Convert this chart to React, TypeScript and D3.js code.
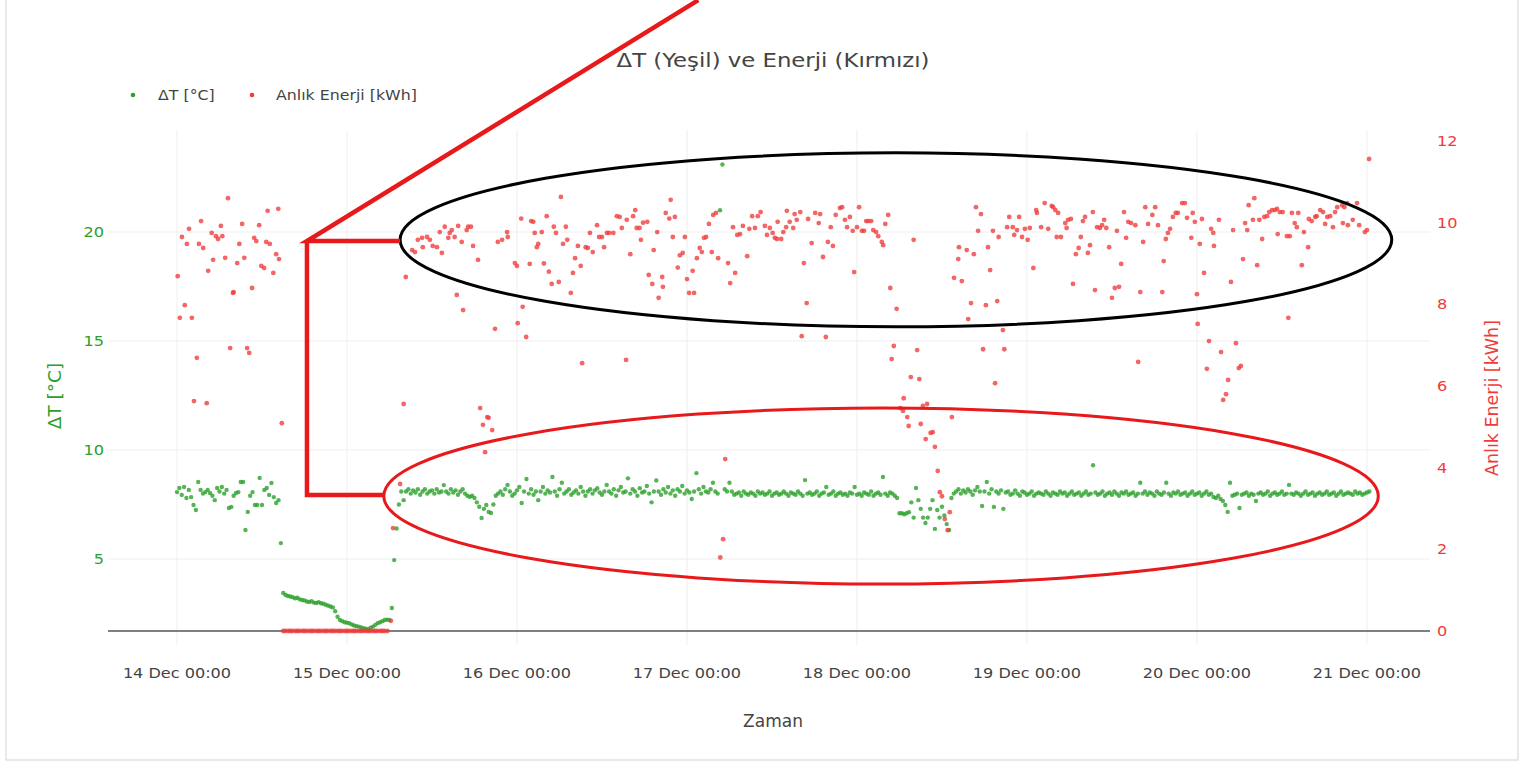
import React from 'react';
import * as d3 from 'd3';

// ΔT [°C] sampled every 20 minutes from 14 Dec 00:00
const dtStepHours = 1 / 3;
const dtDay14 = [8.07, 8.26, 7.94, 8.3, 7.8, 8.17, 7.84, 7.48, 7.25, 8.53, 8.17, 8.0, 8.07, 8.17, 8.03, 7.9, 7.7, 8.26, 8.1, 8.3, 8.0, 8.17, 7.34, 7.39, 7.9, 8.03, 8.07, 8.53, 8.53, 6.33, 7.16, 7.9, 8.07, 7.48, 7.48, 8.72, 7.48, 8.17, 8.26, 7.94, 8.49, 7.84, 7.57, 7.7, 5.73];
const dtOff = [3.44, 3.35, 3.3, 3.28, 3.25, 3.2, 3.22, 3.15, 3.12, 3.1, 3.05, 3.03, 3.06, 3.0, 2.98, 3.02, 2.97, 2.95, 2.9, 2.86, 2.82, 2.78, 2.6, 2.35, 2.2, 2.15, 2.1, 2.08, 2.05, 2.0, 1.95, 1.92, 1.9, 1.86, 1.82, 1.8, 1.78, 1.85, 1.9, 1.98, 2.06, 2.1, 2.15, 2.2, 2.22, 2.2, 2.75, 4.95, 6.4, 7.5, 8.1];
const dtDay15to17 = [7.7, 8.1, 8.2, 8.0, 8.15, 8.05, 8.2, 7.95, 8.1, 8.2, 8.0, 8.1, 8.15, 8.0, 8.2, 8.05, 8.1, 8.39, 8.1, 8.0, 8.2, 8.05, 8.15, 7.95, 8.1, 8.2, 8.0, 7.9, 7.85, 7.9, 7.8, 7.6, 7.4, 6.88, 7.3, 7.48, 7.16, 7.11, 7.5, 7.9, 8.0, 8.1, 7.95, 8.2, 8.4, 8.1, 7.9, 8.0, 8.15, 8.3, 7.57, 8.1, 8.67, 8.0, 8.2, 7.95, 8.1, 7.7, 8.1, 8.3, 8.0, 8.15, 8.05, 8.76, 8.1, 7.9, 8.2, 8.5, 8.0, 8.1, 8.2, 7.95, 8.05, 8.15, 8.0, 8.3, 8.1, 7.9, 8.1, 8.2, 8.0, 8.15, 8.25, 8.05, 7.95, 8.1, 8.4, 8.1, 8.0, 8.2, 7.9, 8.15, 8.3, 8.05, 8.1, 8.7, 8.0, 8.2, 8.1, 7.9, 8.25, 8.05, 8.1, 8.35, 8.0, 7.6, 8.1, 8.6, 8.1, 7.95, 8.2, 8.05, 8.3, 8.0, 8.15, 7.9, 8.2, 8.1, 8.35, 8.0, 8.15, 8.05, 7.75, 8.1, 8.94, 8.2, 8.0, 8.3, 8.1, 8.05, 8.2, 8.5, 8.1, 8.0, 21.0, 23.1, 8.2, 8.1, 8.5];
const dtDay17to18 = [8.1, 7.95, 8.0, 8.05, 7.9, 8.1, 8.0, 7.95, 8.05, 8.0, 7.9, 8.1, 8.0, 8.05, 7.95, 8.0, 8.1, 7.9, 8.0, 8.05, 7.95, 8.0, 8.1, 8.0, 7.9, 8.05, 8.0, 7.95, 8.1, 8.0, 7.9, 8.62, 8.0, 8.05, 7.95, 8.0, 8.1, 7.9, 8.0, 8.05, 8.3, 7.95, 8.0, 8.1, 7.9, 8.0, 8.05, 7.95, 8.0, 7.9, 8.05, 8.0, 8.3, 7.95, 8.0, 7.9, 8.05, 8.0, 7.95, 8.1, 7.9, 8.0, 8.05, 7.95, 8.76, 8.0, 7.9, 8.05, 8.0, 7.9, 7.8, 7.1, 7.1, 7.05, 7.1, 7.15, 7.6, 6.9, 8.26, 7.7, 7.3, 6.9, 6.65, 6.9, 7.3, 7.7, 6.38, 7.25, 6.9, 7.4, 7.0, 6.6, 6.33, 7.8, 8.0];
const dtDay18to21 = [8.1, 8.2, 8.0, 8.15, 8.05, 8.2, 8.1, 7.95, 8.15, 8.3, 8.1, 7.43, 8.1, 8.53, 8.0, 8.2, 7.39, 8.1, 8.0, 8.15, 7.3, 8.05, 8.1, 7.95, 8.0, 8.15, 8.0, 7.9, 8.1, 8.05, 7.95, 8.0, 8.1, 7.9, 8.0, 8.05, 8.0, 7.95, 8.1, 8.0, 7.9, 8.05, 8.0, 7.95, 8.1, 8.0, 8.05, 7.9, 8.0, 8.1, 7.95, 8.0, 8.05, 7.9, 8.0, 8.1, 7.95, 8.0, 9.3, 8.05, 7.95, 8.0, 8.1, 7.9, 8.0, 8.05, 7.95, 8.1, 8.0, 7.9, 8.05, 8.0, 8.1, 7.95, 8.0, 8.05, 7.9, 8.0, 8.5, 8.0, 8.1, 7.95, 8.05, 8.0, 7.9, 8.1, 8.0, 7.95, 8.05, 8.5, 8.0, 7.9, 8.05, 8.0, 8.1, 7.95, 8.0, 8.05, 7.9, 8.0, 8.1, 7.95, 8.0, 8.05, 7.9, 8.0, 8.1, 7.95, 8.0, 7.85, 7.8, 7.9, 7.75, 7.66, 7.48, 7.16, 8.5, 7.9, 7.95, 8.0, 7.34, 7.95, 8.0, 8.05, 7.9, 8.0, 7.95, 7.66, 8.0, 8.05, 7.95, 8.0, 8.1, 7.9, 8.0, 8.05, 7.95, 8.0, 8.1, 7.95, 8.0, 8.4, 8.0, 7.95, 8.05, 8.0, 7.9, 8.0, 8.1, 7.95, 8.0, 8.05, 7.9, 8.0, 8.05, 7.95, 8.0, 8.1, 7.95, 8.0, 8.05, 7.9, 8.0, 8.1, 7.95, 8.0, 8.05, 8.0, 7.95, 8.1, 8.0, 8.05, 7.95, 8.0, 8.05, 8.1];

// Anlık Enerji [kWh] as [hours since 14 Dec 00:00, value]
const energyDay14 = [[0.1, 8.69], [0.4, 7.67], [0.7, 9.65], [1.1, 7.98], [1.4, 9.48], [1.7, 9.85], [2.1, 7.67], [2.4, 5.63], [2.8, 6.69], [3.1, 9.48], [3.4, 10.04], [3.7, 9.38], [4.2, 5.58], [4.4, 8.82], [4.9, 9.75], [5.1, 9.09], [5.5, 9.67], [5.8, 9.6], [6.2, 9.92], [6.4, 9.67], [6.8, 9.14], [7.2, 10.6], [7.5, 6.93], [7.9, 8.28], [8.0, 8.3], [8.5, 9.01], [8.8, 9.48], [9.2, 9.97], [9.5, 9.14], [9.9, 6.93], [10.2, 6.81], [10.6, 8.4], [10.9, 9.63], [11.2, 9.55], [11.6, 9.94], [11.9, 8.94], [12.3, 8.89], [12.6, 9.53], [12.8, 10.29], [13.1, 9.48], [13.6, 8.77], [14.0, 9.23], [14.3, 10.34], [14.4, 9.11], [14.8, 5.09]];
const energyOff = [[15.0, 0], [15.3, 0], [15.7, 0], [16.0, 0], [16.3, 0], [16.7, 0], [17.0, 0], [17.3, 0], [17.7, 0], [18.0, 0], [18.3, 0], [18.7, 0], [19.0, 0], [19.3, 0], [19.7, 0], [20.0, 0], [20.3, 0], [20.7, 0], [21.0, 0], [21.3, 0], [21.7, 0], [22.0, 0], [22.3, 0], [22.7, 0], [23.0, 0], [23.3, 0], [23.7, 0], [24.0, 0], [24.3, 0], [24.7, 0], [25.0, 0], [25.3, 0], [25.7, 0], [26.0, 0], [26.3, 0], [26.7, 0], [27.0, 0], [27.3, 0], [27.7, 0], [28.0, 0], [28.3, 0], [28.7, 0], [29.0, 0], [29.3, 0], [29.7, 0], [30.2, 0.25], [30.5, 2.52], [31.5, 3.6], [32.0, 5.56], [32.3, 8.67]];
const energyDay15to17 = [[33.2, 9.33], [33.6, 9.28], [34.0, 9.58], [34.6, 9.63], [34.7, 9.4], [35.3, 9.65], [35.7, 9.58], [36.1, 9.43], [36.7, 9.4], [37.1, 9.77], [37.4, 9.26], [37.8, 9.9], [38.3, 9.63], [38.5, 9.75], [38.8, 9.82], [39.2, 9.65], [39.5, 8.23], [39.7, 9.92], [40.2, 9.53], [40.4, 7.86], [40.9, 9.82], [41.1, 9.9], [41.5, 9.9], [41.8, 9.43], [42.5, 9.09], [42.8, 5.46], [43.2, 5.05], [43.5, 4.38], [43.8, 5.24], [44.0, 5.22], [44.5, 4.92], [44.9, 7.4], [45.3, 9.53], [45.9, 9.58], [46.6, 9.77], [46.7, 9.65], [47.7, 9.01], [48.0, 8.94], [48.1, 7.54], [48.6, 10.1], [48.8, 7.94], [49.3, 7.2], [49.8, 8.99], [50.0, 10.04], [50.3, 10.02], [50.5, 9.75], [50.8, 9.4], [51.0, 9.48], [51.5, 9.77], [51.8, 9.0], [52.2, 10.16], [52.5, 8.8], [52.9, 8.5], [53.2, 9.9], [53.5, 9.75], [53.9, 8.55], [54.2, 10.63], [54.5, 9.48], [54.9, 9.9], [55.1, 9.58], [55.6, 8.28], [55.9, 8.77], [56.2, 9.13], [56.6, 9.43], [57.0, 8.94], [57.2, 6.56], [57.7, 9.4], [58.0, 9.38], [58.3, 9.75], [58.7, 9.28], [59.3, 9.94], [59.6, 9.65], [60.0, 9.65], [60.3, 9.4], [60.7, 9.75], [61.0, 9.75], [61.6, 9.75], [62.1, 10.16], [62.5, 10.14], [62.8, 9.87], [63.4, 6.64], [63.5, 10.07], [64.0, 9.23], [64.4, 10.16], [64.7, 10.31], [64.9, 9.87], [65.3, 9.87], [65.5, 9.58], [65.8, 10.0], [66.4, 10.02], [66.6, 8.72], [67.1, 8.5], [67.3, 9.33], [67.8, 9.77], [68.0, 8.16], [68.5, 8.67], [68.6, 8.43], [69.0, 10.24], [69.5, 10.1], [69.7, 10.56], [70.0, 9.65], [70.3, 10.14], [70.7, 8.9], [71.0, 9.2], [71.4, 9.26], [71.7, 9.65], [72.0, 8.62], [72.3, 8.28], [72.8, 8.82], [73.0, 8.28], [73.4, 9.13], [73.8, 9.38], [74.1, 9.28], [74.4, 9.63], [74.7, 9.65], [75.1, 9.97], [75.5, 9.28], [75.7, 10.19], [76.1, 10.24], [76.4, 9.13], [76.7, 1.8], [77.1, 2.25], [77.4, 4.21], [77.8, 9.01], [78.1, 8.52], [78.5, 9.89], [78.8, 8.77], [79.1, 9.7]];
const energyDay17to19 = [[79.5, 9.72], [79.9, 9.92], [80.5, 9.18], [80.8, 9.85], [81.2, 10.16], [81.6, 9.87], [82.0, 10.16], [82.4, 10.26], [83.0, 9.92], [83.3, 9.7], [83.7, 9.87], [84.1, 9.75], [84.4, 9.63], [84.7, 9.6], [84.8, 10.02], [85.3, 9.6], [85.6, 9.77], [86.0, 9.89], [86.1, 10.29], [86.5, 10.02], [87.0, 9.87], [87.2, 10.21], [87.5, 10.07], [88.0, 10.26], [88.2, 7.22], [88.5, 9.01], [88.9, 8.03], [89.1, 10.09], [89.6, 9.5], [90.1, 10.24], [90.6, 9.99], [90.8, 10.21], [91.2, 9.16], [91.6, 7.2], [91.9, 9.53], [92.3, 9.89], [92.6, 9.43], [93.0, 10.19], [93.6, 10.36], [93.9, 10.38], [94.3, 10.07], [94.6, 9.89], [95.0, 10.14], [95.4, 9.8], [95.6, 8.79], [96.0, 9.89], [96.3, 10.38], [96.7, 9.8], [97.0, 9.8], [97.3, 10.04], [97.6, 10.04], [98.0, 10.04], [98.3, 9.82], [98.7, 9.77], [99.0, 9.67], [99.5, 9.53], [99.7, 9.45], [100.0, 9.97], [100.4, 10.19], [100.7, 8.4], [100.9, 6.66], [101.2, 6.98], [101.6, 7.89], [102.1, 5.46], [102.5, 5.39], [102.6, 5.7], [103.1, 5.24], [103.3, 5.02], [103.6, 6.22], [104.0, 9.58], [104.5, 6.88], [104.8, 6.17], [105.0, 5.07], [105.3, 5.51], [105.7, 4.7], [105.9, 5.56], [106.4, 4.85], [106.7, 4.87], [107.0, 4.51], [107.4, 3.92], [107.7, 3.4], [108.0, 3.3], [108.4, 2.74], [108.8, 2.47], [109.1, 2.91], [109.4, 5.24], [109.7, 8.65], [110.3, 9.11], [110.4, 9.4], [110.8, 8.57], [111.5, 9.33], [111.7, 7.64], [112.1, 8.03], [112.5, 9.23], [112.8, 10.38], [113.1, 9.8], [113.5, 10.21], [113.8, 6.9], [114.2, 7.98], [114.5, 9.4], [114.8, 8.84], [115.2, 9.8], [115.5, 6.07], [115.8, 8.08], [116.0, 9.65], [116.6, 7.37], [116.8, 6.9], [117.2, 9.89], [117.5, 10.14], [118.0, 9.89], [118.2, 9.7], [118.6, 9.82], [118.9, 10.14], [119.3, 9.65], [119.7, 9.85], [120.1, 9.58], [120.4, 9.87], [120.9, 8.89], [121.3, 10.31], [121.4, 10.24], [122.0, 9.89], [122.5, 10.48], [123.0, 9.85], [123.5, 10.41], [123.7, 10.38], [124.0, 10.31], [124.2, 9.65], [124.4, 10.24], [124.8, 9.65], [125.4, 9.99], [125.6, 9.87], [125.8, 10.07], [126.2, 10.09]];
const energyDay19to21 = [[126.5, 8.5], [126.9, 9.23], [127.3, 9.38], [127.6, 9.65], [127.9, 10.04], [128.2, 10.14], [128.6, 9.26], [128.9, 9.45], [129.3, 10.26], [129.6, 8.35], [129.9, 9.89], [130.3, 9.87], [130.6, 9.94], [130.9, 10.07], [131.2, 9.87], [131.6, 9.4], [132.0, 8.16], [132.4, 8.4], [132.7, 9.8], [133.0, 8.43], [133.3, 8.99], [133.7, 10.26], [134.0, 9.63], [134.3, 10.02], [134.7, 9.99], [135.3, 9.94], [135.7, 6.59], [136.0, 8.3], [136.4, 9.53], [136.7, 10.38], [137.1, 9.97], [137.7, 10.19], [138.1, 10.38], [138.5, 9.94], [139.1, 8.3], [139.3, 9.06], [139.6, 9.6], [139.9, 9.75], [140.2, 9.85], [140.6, 10.14], [141.0, 10.24], [141.3, 10.24], [141.9, 10.48], [142.3, 10.48], [142.6, 10.12], [143.2, 9.63], [143.4, 10.24], [143.7, 10.02], [144.0, 8.25], [144.1, 7.52], [144.4, 9.48], [144.7, 10.09], [145.0, 8.77], [145.4, 6.42], [145.7, 7.1], [146.0, 9.85], [146.3, 9.75], [146.4, 9.43], [147.1, 10.07], [147.4, 6.83], [147.7, 5.66], [148.1, 5.8], [148.4, 6.15], [148.8, 8.55], [149.1, 9.82], [149.5, 7.05], [149.9, 6.44], [150.2, 6.49], [150.5, 9.11], [150.8, 9.99], [151.1, 9.82], [151.3, 10.43], [151.9, 10.07], [152.1, 10.6], [152.5, 8.96], [152.8, 10.07], [153.2, 9.6], [153.5, 10.14], [153.9, 10.16], [154.2, 10.26], [154.6, 10.31], [155.0, 10.31], [155.3, 10.34], [155.4, 9.72], [155.7, 10.26], [156.1, 10.26], [156.7, 9.67], [156.9, 7.67], [157.1, 9.67], [157.4, 10.24], [157.8, 9.99], [158.1, 9.89], [158.3, 10.24], [158.8, 8.96], [159.1, 9.77], [159.7, 9.4], [159.8, 10.09], [160.2, 10.04], [160.7, 10.14], [160.9, 10.16], [161.4, 10.31], [161.8, 10.26], [162.1, 9.97], [162.4, 10.14], [162.8, 10.16], [163.2, 9.89], [163.5, 10.26], [163.8, 10.38], [164.5, 10.43], [164.6, 9.99], [164.8, 10.38], [165.2, 10.48], [165.3, 9.94], [166.0, 10.07], [166.6, 10.48], [166.9, 9.94], [167.7, 9.77], [168.0, 9.82], [168.3, 11.56]];

// axes
const dtTicks = [5, 10, 15, 20];
const energyTicks = [0, 2, 4, 6, 8, 10, 12];
const xRangeHours = [-9.74, 176.9];
const dtRange = [1.055, 24.68];
const energyRange = [-0.343, 12.27];

const GREEN = '#2ca02c';
const RED = '#ef3b3b';
const FONT = '"DejaVu Sans", Verdana, sans-serif';

const t0 = Date.UTC(2024, 11, 14);
const toDate = (h: number) => new Date(t0 + h * 3600 * 1000);

// text drawn a bit wider than the font, like the screenshot
function Label({ x, y, sx = 1, size, fill, anchor = 'start', rotate = 0, children }: any) {
  return (
    <text
      transform={`translate(${x},${y}) rotate(${rotate}) scale(${sx},1)`}
      textAnchor={anchor}
      fontSize={size}
      fill={fill}
    >
      {children}
    </text>
  );
}

export default function App() {
  const plot = { left: 108, right: 1430, top: 130, bottom: 645 };

  const x = d3.scaleUtc()
    .domain(xRangeHours.map(toDate))
    .range([plot.left, plot.right]);
  const yL = d3.scaleLinear().domain(dtRange).range([plot.bottom, plot.top]);
  const yR = d3.scaleLinear().domain(energyRange).range([plot.bottom, plot.top]);

  const dtValues = [...dtDay14, ...dtOff, ...dtDay15to17, ...dtDay17to18, ...dtDay18to21];
  const dtPoints = dtValues.map((v, i) => [i * dtStepHours, v]);
  const energyPoints = [...energyDay14, ...energyOff, ...energyDay15to17, ...energyDay17to19, ...energyDay19to21];

  const dayTicks = d3.utcDay.range(toDate(0), toDate(169));
  const fmt = d3.utcFormat('%d %b %H:%M');

  // annotation overlay anchors (data units)
  const corner = { x: x(toDate(18.35)), yTop: yR(9.55), yBot: yL(7.94) };
  const blackEll = { cx: x(toDate(101.5)), cy: yR(9.58), rx: x(toDate(70)) - x(toDate(0)), ry: yR(0) - yR(2.13) };
  const redEll = { cx: x(toDate(99.4)), cy: yL(7.89), rx: x(toDate(70.2)) - x(toDate(0)), ry: yL(0) - yL(4.04) };
  const diagEnd = { x: x(toDate(73.6)), y: yR(15.45) };

  return (
    <svg width={1523} height={765} style={{ position: 'absolute', left: 0, top: 0, background: '#fff' }} fontFamily={FONT}>
      <rect x={6} y={-2} width={1512} height={762} fill="#fff" stroke="#e2e2e2" strokeWidth={1.5} />

      {/* grid */}
      {dayTicks.map((d, i) => (
        <line key={'gx' + i} x1={x(d)} x2={x(d)} y1={plot.top} y2={plot.bottom} stroke="#efefef" strokeWidth={1} />
      ))}
      {dtTicks.map((t) => (
        <line key={'gy' + t} x1={plot.left} x2={plot.right} y1={yL(t)} y2={yL(t)} stroke="#efefef" strokeWidth={1} />
      ))}
      <line x1={plot.left} x2={plot.right} y1={yR(0)} y2={yR(0)} stroke="#555" strokeWidth={1.6} />

      {/* series */}
      <g fill={GREEN} fillOpacity={0.8}>
        {dtPoints.map((p, i) => (
          <circle key={'g' + i} cx={x(toDate(p[0]))} cy={yL(p[1])} r={2.2} />
        ))}
      </g>
      <g fill={RED} fillOpacity={0.78}>
        {energyPoints.map((p, i) => (
          <circle key={'r' + i} cx={x(toDate(p[0]))} cy={yR(p[1])} r={2.4} />
        ))}
      </g>

      {/* x axis labels */}
      {dayTicks.map((d, i) => (
        <Label key={'xl' + i} x={x(d)} y={678} sx={1.15} size={14} fill="#444" anchor="middle">{fmt(d)}</Label>
      ))}
      <Label x={773} y={727} size={17} fill="#444" anchor="middle">Zaman</Label>

      {/* left axis */}
      {dtTicks.map((t) => (
        <Label key={'yl' + t} x={104} y={yL(t) + 5} sx={1.15} size={14} fill={GREEN} anchor="end">{t}</Label>
      ))}
      <Label x={61} y={396} size={18.5} fill={GREEN} anchor="middle" rotate={-90}>ΔT [°C]</Label>

      {/* right axis */}
      {energyTicks.map((t) => (
        <Label key={'yr' + t} x={1437} y={yR(t) + 5} sx={1.15} size={14} fill={RED}>{t}</Label>
      ))}
      <Label x={1498} y={398} size={17.5} fill={RED} anchor="middle" rotate={-90}>Anlık Enerji [kWh]</Label>

      {/* title */}
      <Label x={773} y={67} sx={1.2} size={19} fill="#444" anchor="middle">ΔT (Yeşil) ve Enerji (Kırmızı)</Label>

      {/* legend */}
      <circle cx={133} cy={95} r={2.3} fill={GREEN} />
      <Label x={158} y={100} sx={1.17} size={13.5} fill="#444">ΔT [°C]</Label>
      <circle cx={252} cy={95} r={2.3} fill={RED} />
      <Label x={276} y={100} sx={1.17} size={13.5} fill="#444">Anlık Enerji [kWh]</Label>

      {/* annotations */}
      <ellipse cx={blackEll.cx} cy={blackEll.cy} rx={blackEll.rx} ry={blackEll.ry} fill="none" stroke="#000" strokeWidth={3} />
      <ellipse cx={redEll.cx} cy={redEll.cy} rx={redEll.rx} ry={redEll.ry} fill="none" stroke="#e8191b" strokeWidth={3} />
      <path
        d={`M${diagEnd.x},${diagEnd.y} L${corner.x},${corner.yTop} L${blackEll.cx - blackEll.rx},${corner.yTop} M${corner.x},${corner.yTop} L${corner.x},${corner.yBot} L${redEll.cx - redEll.rx},${corner.yBot}`}
        fill="none" stroke="#e8191b" strokeWidth={4.5} strokeLinejoin="miter"
      />
    </svg>
  );
}
